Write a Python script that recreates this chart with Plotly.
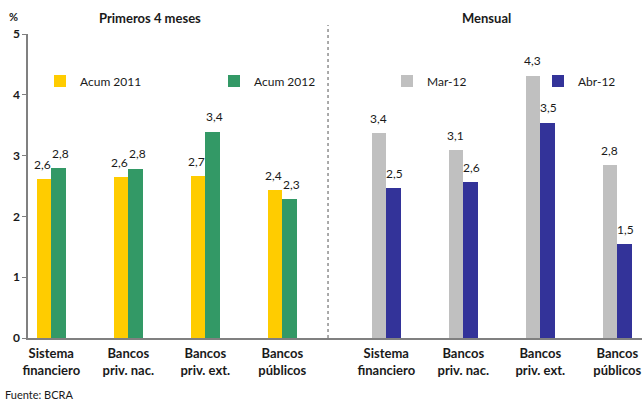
import plotly.graph_objects as go

categories = ["Sistema<br>financiero", "Bancos<br>priv. nac.", "Bancos<br>priv. ext.", "Bancos<br>públicos"]
left_pos = [0, 1, 2, 3]
right_pos = [4.35, 5.35, 6.35, 7.35]

acum_2011 = [2.61, 2.64, 2.66, 2.43]
acum_2012 = [2.79, 2.78, 3.39, 2.28]
mar_12 = [3.37, 3.09, 4.31, 2.84]
abr_12 = [2.46, 2.56, 3.54, 1.54]

y_ticks = [0, 1, 2, 3, 4, 5]

FONT = "Lato, 'Open Sans', sans-serif"
TXT = "#1a1a1a"
BW = 0.186

# pixel helpers for plot area (left 28, right 642, top 34, bottom 338)
def px_x(px):
    return (px - 28) / 614

def px_y(py):
    return (338 - py) / 304

fig = go.Figure()

series = [
    ("Acum 2011", acum_2011, left_pos, -BW, "#FFCC00", "legend", -2),
    ("Acum 2012", acum_2012, left_pos, 0, "#339966", "legend2", 2),
    ("Mar-12", mar_12, right_pos, -BW, "#C0C0C0", "legend3", -1),
    ("Abr-12", abr_12, right_pos, 0, "#333399", "legend4", 1),
]

annotations = []
for name, vals, pos, off, col, leg, xs in series:
    fig.add_trace(go.Bar(
        x=pos, y=vals, name=name, width=BW, offset=off,
        marker=dict(color=col, line=dict(width=0)),
        legend=leg, hoverinfo="skip",
    ))
    for xv, yv in zip(pos, vals):
        annotations.append(dict(
            x=xv + off + BW / 2, y=yv, xref="x", yref="y",
            text=f"{yv:.1f}".replace(".", ","), showarrow=False,
            yanchor="middle", yshift=15, xshift=xs,
            font=dict(family=FONT, size=12, color=TXT),
        ))

annotations += [
    dict(x=px_x(150), y=px_y(18), xref="paper", yref="paper", text="<b>Primeros 4 meses</b>",
         showarrow=False, xanchor="center", yanchor="middle",
         font=dict(family=FONT, size=13, color=TXT)),
    dict(x=px_x(486), y=px_y(18), xref="paper", yref="paper", text="<b>Mensual</b>",
         showarrow=False, xanchor="center", yanchor="middle",
         font=dict(family=FONT, size=13, color=TXT)),
    dict(x=px_x(7), y=px_y(16), xref="paper", yref="paper", text="<b>%</b>",
         showarrow=False, xanchor="left", yanchor="middle",
         font=dict(family=FONT, size=11, color=TXT)),
    dict(x=px_x(3), y=px_y(386), xref="paper", yref="paper", text="Fuente: BCRA",
         showarrow=False, xanchor="left", yanchor="top",
         font=dict(family=FONT, size=11, color=TXT)),
]

legend_px = [40, 214, 387, 538]
leg_common = dict(orientation="h", yanchor="middle", xanchor="left",
                  bgcolor="rgba(0,0,0,0)", borderwidth=0,
                  font=dict(family=FONT, size=12, color=TXT), itemwidth=30)
layout_legends = {}
for i, lx in enumerate(legend_px):
    key = "legend" if i == 0 else f"legend{i+1}"
    layout_legends[key] = dict(x=px_x(lx), y=px_y(81), **leg_common)

fig.update_layout(
    width=642, height=401,
    margin=dict(l=28, r=0, t=34, b=63),
    paper_bgcolor="white", plot_bgcolor="white",
    showlegend=True,
    bargap=0,
    font=dict(family=FONT, size=12, color=TXT),
    annotations=annotations,
    shapes=[dict(type="line", xref="x", yref="paper", x0=3.594, x1=3.594,
                 y0=0, y1=px_y(25), line=dict(color="#555555", width=1, dash="3px,3px"))],
    **layout_legends,
)

bold_cats = ["<b>" + c.replace("<br>", "</b><br><b>") + "</b>" for c in categories]
fig.update_xaxes(
    range=[-0.302, 7.671], tickvals=left_pos + right_pos, ticktext=bold_cats * 2,
    showline=True, linecolor="#808080", linewidth=1.5, ticks="", showgrid=False,
    zeroline=False, tickfont=dict(family=FONT, size=13, color=TXT),
    ticklabelstandoff=3,
)

fig.update_yaxes(
    range=[0, 5], tickvals=y_ticks, ticktext=[f"<b>{t}</b>" for t in y_ticks],
    showline=True, linecolor="#808080", linewidth=1.5, ticks="outside", ticklen=4,
    tickcolor="#808080", showgrid=False, zeroline=False,
    tickfont=dict(family=FONT, size=12, color=TXT),
)

fig.write_html("out.html", config={"displayModeBar": False},
               post_script="document.body.style.margin='0';document.body.style.overflow='hidden';")
